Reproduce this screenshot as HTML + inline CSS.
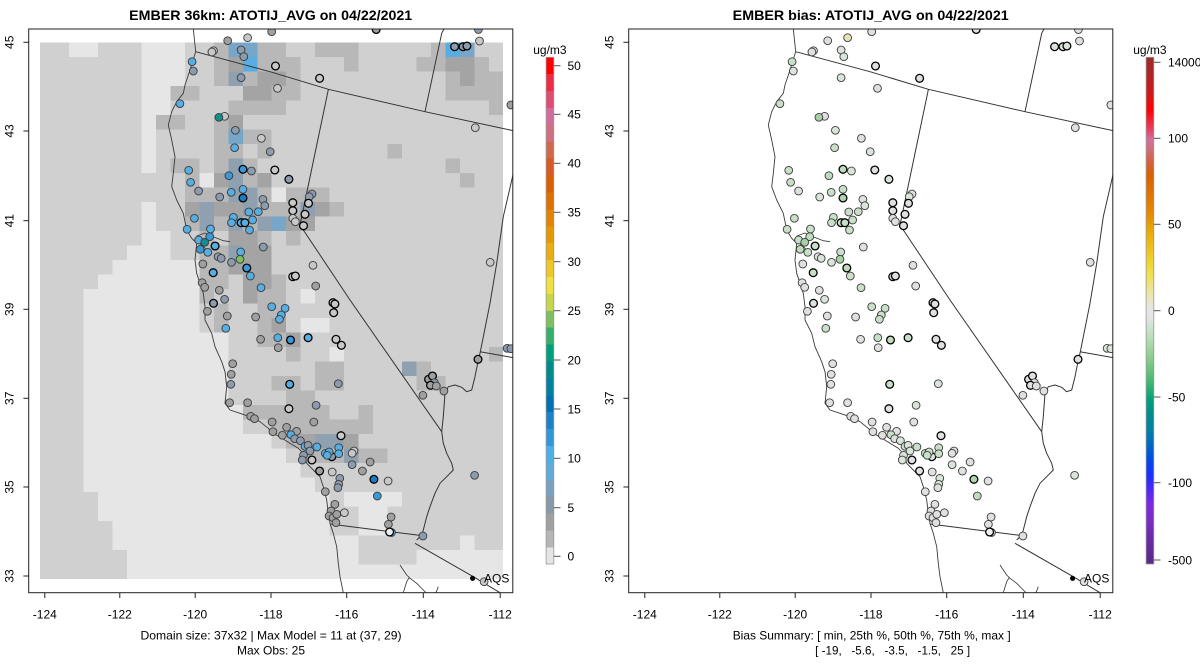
<!DOCTYPE html>
<html><head><meta charset="utf-8">
<style>
html,body{margin:0;padding:0;background:#fff;}
svg{display:block;font-family:"Liberation Sans",Arial,sans-serif;}
.ax{font-size:12px;fill:#000;}
.pt circle{stroke:#3a3a3a;stroke-width:0.9;}
.pt circle.k{stroke:#000;stroke-width:1.3;}
.L .g1{fill:#a0a0a0}.L .lt{fill:#c8c8c8}.L .tn{fill:#c8c8c8}.L .kb{fill:#8c9cae}.L .bl{fill:#56aee2}.L .mb{fill:#3a98d8}.L .db{fill:#1a7cc0}.L .te{fill:#128c90}.L .gr{fill:#78c060}.L .wh{fill:#ececec}
.R .g1,.R .lt{fill:#e0e0e0}.R .tn{fill:#e6e4b4}.R .kb{fill:#dae4da}.R .bl{fill:#c8dfc8}.R .mb{fill:#bddbbd}.R .db{fill:#b0d6b0}.R .te{fill:#a6d1a6}.R .gr{fill:#a6d1a2}.R .wh{fill:#eeeeee}
.ga{fill:#e6e6e6}.gc{fill:#b8b8b8}.gd{fill:#a4a4a4}.ge{fill:#8fa0b0}.gf{fill:#78a6c8}.gg{fill:#58aee2}
</style></head>
<body>
<svg width="1200" height="672" viewBox="0 0 1200 672" xmlns="http://www.w3.org/2000/svg">
<defs>
<clipPath id="box"><rect x="28.7" y="29" width="484.1" height="563.7"/></clipPath>
<linearGradient id="bias" x1="0" y1="0" x2="0" y2="1">
<stop offset="0" stop-color="#9a2a2a"/><stop offset="0.035" stop-color="#b02424"/><stop offset="0.074" stop-color="#d01818"/><stop offset="0.104" stop-color="#ff0000"/><stop offset="0.128" stop-color="#f02840"/><stop offset="0.147" stop-color="#e04a6c"/><stop offset="0.163" stop-color="#d070a0"/><stop offset="0.182" stop-color="#cc7078"/><stop offset="0.206" stop-color="#d46040"/><stop offset="0.232" stop-color="#d86000"/><stop offset="0.272" stop-color="#e07400"/><stop offset="0.311" stop-color="#e48c00"/><stop offset="0.337" stop-color="#e8a400"/><stop offset="0.370" stop-color="#ecbc18"/><stop offset="0.404" stop-color="#f0d430"/><stop offset="0.430" stop-color="#f0e050"/><stop offset="0.459" stop-color="#ece49a"/><stop offset="0.483" stop-color="#e8e6cc"/><stop offset="0.499" stop-color="#e6e6e6"/><stop offset="0.515" stop-color="#e4e4e4"/><stop offset="0.530" stop-color="#d0e4d0"/><stop offset="0.554" stop-color="#b8dcb8"/><stop offset="0.578" stop-color="#9cd29c"/><stop offset="0.601" stop-color="#80ca84"/><stop offset="0.627" stop-color="#5abe78"/><stop offset="0.652" stop-color="#30b074"/><stop offset="0.676" stop-color="#00a07c"/><stop offset="0.706" stop-color="#008c8c"/><stop offset="0.736" stop-color="#0080a4"/><stop offset="0.765" stop-color="#0068c4"/><stop offset="0.795" stop-color="#0048e8"/><stop offset="0.824" stop-color="#1830ff"/><stop offset="0.854" stop-color="#5028f4"/><stop offset="0.884" stop-color="#8028e0"/><stop offset="0.913" stop-color="#7a2cc4"/><stop offset="0.953" stop-color="#6a2aa4"/><stop offset="1" stop-color="#5c2888"/>
</linearGradient>
<g id="lines" fill="none" stroke="#333" stroke-width="1" stroke-linejoin="round">
<path d="M195.7,51.7 L270,71.7 L328.4,89.3 L425,111.7 L513.3,130.7"/>
<path d="M328.4,89.3 L300,225 L350,300 L441.7,431.7"/>
<path d="M425,111.7 L441.7,33.3 L444,29"/>
<path d="M513.3,173.3 L503.3,216.7 L496.7,263.3 L490,303.3 L480,353.3 L478.3,360 L475,376.7 L471.7,390 L466.7,391.7 L461.7,387.3 L455,385 L448.3,386.7 L445,393.3 L443.3,416.7 L441.7,431.7 L443.3,443.3 L446.7,453.3 L451.7,463.3 L453.3,470 L446.7,476.7 L440,483.3 L435,493.3 L430,506.7 L426.7,516.7 L423.3,530 L421.7,535 L416.7,540"/>
<path d="M330,524 L421,535.5"/>
<path d="M415,543.3 L473.3,576.7 L500,592.7"/>
<path d="M480,351.7 L513.3,357.7"/>
<path stroke-width="0.8" d="M400,565 L403.3,570 L406.7,575 L410,578.3 L416.7,583.3 L423.3,590 L426,592.7 M403.3,592.7 L406.7,581.7 L409,578 M436,592.7 L438.3,586.7"/>
<path stroke-width="0.9" stroke="#3a3a3a" d="M193.3,29 L195.7,51.7 L190,70 L185,85 L183.3,93.3 L176.7,101.7 L171.7,111.7 L168.3,125 L171.7,140 L175,156.7 L173.3,173.3 L171.7,186.7 L176.7,200 L183.3,213.3 L186.7,230 L191.7,238.3 L196.7,243.3 L195,260 L196.7,273.3 L200,283.3 L203.3,293.3 L205,306.7 L205,320 L211.7,333.3 L215,346.7 L221.7,361.7 L225,371.7 L226.7,386.7 L225,403.3 L230,410 L240,413.3 L250,416.7 L260,421.7 L268.3,428.3 L273.3,433.3 L280,437 L290,443.3 L298.3,448.3 L303.3,453.3 L306.7,463.3 L313.3,470 L320,476.7 L323.3,486.7 L326.7,500 L328.3,513.3 L330,523.3 L333.3,533.3 L336.7,546.7 L338.3,563.3 L340,576.7 L343.3,592.7"/>
<path stroke-width="0.8" stroke="#3a3a3a" d="M196.7,236 L205,233 L211,236 L217,238.3 L223.3,240.7 L230,241.7 M200,244 L205,248 L207,256"/>
</g>
</defs>

<!-- ================= LEFT PANEL ================= -->
<text x="270.7" y="20" text-anchor="middle" font-size="14" font-weight="bold" textLength="283" lengthAdjust="spacingAndGlyphs">EMBER 36km: ATOTIJ_AVG on 04/22/2021</text>

<g transform="translate(40.2,42.3) scale(14.47,14.5)" shape-rendering="crispEdges">
<rect x="0" y="0" width="32" height="37" fill="#d0d0d0"/>
<!-- light -->
<rect class="ga" x="2" y="0" width="2" height="1"/><rect class="ga" x="7" y="0" width="3" height="3"/><rect class="ga" x="7" y="3" width="2" height="2"/><rect class="ga" x="7" y="5" width="1" height="4"/><rect class="ga" x="7" y="11" width="1" height="2"/><rect class="ga" x="7" y="13" width="2" height="1"/><rect class="ga" x="6" y="14" width="3" height="1"/><rect class="ga" x="5" y="15" width="6" height="1"/><rect class="ga" x="4" y="16" width="7" height="1"/><rect class="ga" x="3" y="17" width="8" height="3"/><rect class="ga" x="3" y="20" width="10" height="5"/><rect class="ga" x="3" y="25" width="11" height="2"/><rect class="ga" x="3" y="27" width="13" height="1"/><rect class="ga" x="3" y="28" width="14" height="1"/><rect class="ga" x="3" y="29" width="15" height="1"/><rect class="ga" x="3" y="30" width="16" height="1"/><rect class="ga" x="4" y="31" width="16" height="2"/><rect class="ga" x="5" y="33" width="15" height="1"/><rect class="ga" x="5" y="34" width="17" height="1"/><rect class="ga" x="6" y="35" width="16" height="1"/><rect class="ga" x="6" y="36" width="26" height="1"/><rect class="ga" x="21" y="31" width="4" height="1"/><rect class="ga" x="22" y="32" width="2" height="2"/><rect class="ga" x="29" y="34" width="1" height="1"/><rect class="ga" x="26" y="35" width="6" height="1"/><rect class="ga" x="11" y="9" width="1" height="1"/><rect class="ga" x="16" y="10" width="1" height="1"/><rect class="ga" x="18" y="17" width="1" height="1"/><rect class="ga" x="18" y="19" width="2" height="1"/><rect class="ga" x="20" y="21" width="1" height="1"/>
<!-- row 0 -->
<rect class="gc" x="12" y="0" width="1" height="1"/><rect class="gf" x="13" y="0" width="2" height="1"/><rect class="gc" x="15" y="0" width="2" height="1"/><rect class="gc" x="19" y="0" width="3" height="1"/><rect class="gc" x="27" y="0" width="1" height="1"/><rect class="gg" x="28" y="0" width="1" height="1"/><rect class="gf" x="29" y="0" width="1" height="1"/>
<!-- row 1 -->
<rect class="gc" x="12" y="1" width="1" height="1"/><rect class="gd" x="13" y="1" width="1" height="1"/><rect class="gg" x="14" y="1" width="1" height="1"/><rect class="gc" x="15" y="1" width="3" height="1"/><rect class="gc" x="21" y="1" width="1" height="1"/><rect class="gc" x="26" y="1" width="2" height="1"/><rect class="gd" x="28" y="1" width="2" height="1"/><rect class="gc" x="30" y="1" width="1" height="1"/>
<!-- row 2 -->
<rect class="gc" x="12" y="2" width="1" height="1"/><rect class="ge" x="13" y="2" width="1" height="1"/><rect class="gc" x="14" y="2" width="1" height="1"/><rect class="gd" x="15" y="2" width="2" height="1"/><rect class="gc" x="17" y="2" width="1" height="1"/><rect class="gc" x="28" y="2" width="1" height="1"/><rect class="gd" x="29" y="2" width="1" height="1"/><rect class="gc" x="30" y="2" width="2" height="1"/>
<!-- row 3 -->
<rect class="gc" x="9" y="3" width="2" height="1"/><rect class="gd" x="14" y="3" width="2" height="1"/><rect class="gc" x="16" y="3" width="2" height="1"/><rect class="gc" x="28" y="3" width="4" height="1"/>
<!-- row 4 -->
<rect class="gc" x="13" y="4" width="4" height="1"/><rect class="gc" x="31" y="4" width="1" height="1"/>
<!-- row 5 -->
<rect class="gc" x="8" y="5" width="2" height="1"/><rect class="gc" x="12" y="5" width="1" height="1"/><rect class="gd" x="13" y="5" width="1" height="1"/>
<!-- row 6 -->
<rect class="gc" x="12" y="6" width="1" height="1"/><rect class="gf" x="13" y="6" width="1" height="1"/><rect class="gc" x="14" y="6" width="2" height="1"/>
<!-- row 7 -->
<rect class="gc" x="12" y="7" width="2" height="1"/><rect class="gc" x="15" y="7" width="1" height="1"/><rect class="gc" x="24" y="7" width="1" height="1"/>
<!-- row 8 -->
<rect class="gc" x="9" y="8" width="2" height="1"/><rect class="gc" x="12" y="8" width="1" height="1"/><rect class="ge" x="13" y="8" width="1" height="1"/><rect class="gc" x="14" y="8" width="1" height="1"/><rect class="gc" x="28" y="8" width="1" height="1"/>
<!-- row 9 -->
<rect class="gc" x="10" y="9" width="1" height="1"/><rect class="gd" x="12" y="9" width="1" height="1"/><rect class="ge" x="13" y="9" width="1" height="1"/><rect class="gc" x="14" y="9" width="1" height="1"/><rect class="gd" x="15" y="9" width="1" height="1"/><rect class="gc" x="29" y="9" width="1" height="1"/>
<!-- row 10 -->
<rect class="gc" x="10" y="10" width="3" height="1"/><rect class="ge" x="13" y="10" width="2" height="1"/><rect class="gc" x="15" y="10" width="1" height="1"/><rect class="gc" x="17" y="10" width="3" height="1"/>
<!-- row 11 -->
<rect class="gd" x="10" y="11" width="1" height="1"/><rect class="ge" x="11" y="11" width="1" height="1"/><rect class="gd" x="12" y="11" width="2" height="1"/><rect class="ge" x="14" y="11" width="1" height="1"/><rect class="gc" x="15" y="11" width="3" height="1"/><rect class="ge" x="18" y="11" width="1" height="1"/><rect class="gd" x="19" y="11" width="1" height="1"/><rect class="gc" x="20" y="11" width="1" height="1"/>
<!-- row 12 -->
<rect class="gc" x="10" y="12" width="1" height="1"/><rect class="ge" x="11" y="12" width="1" height="1"/><rect class="gc" x="12" y="12" width="1" height="1"/><rect class="ge" x="13" y="12" width="1" height="1"/><rect class="gc" x="14" y="12" width="1" height="1"/><rect class="ge" x="15" y="12" width="1" height="1"/><rect class="gf" x="16" y="12" width="1" height="1"/><rect class="gd" x="17" y="12" width="2" height="1"/>
<!-- row 13 -->
<rect class="gc" x="11" y="13" width="1" height="1"/><rect class="gd" x="13" y="13" width="2" height="1"/><rect class="gc" x="15" y="13" width="1" height="1"/><rect class="gc" x="17" y="13" width="1" height="1"/>
<!-- row 14 -->
<rect class="gc" x="11" y="14" width="2" height="1"/><rect class="ge" x="13" y="14" width="1" height="1"/><rect class="gd" x="14" y="14" width="2" height="1"/>
<!-- row 15 -->
<rect class="gc" x="11" y="15" width="2" height="1"/><rect class="gd" x="13" y="15" width="3" height="1"/>
<!-- row 16 -->
<rect class="gc" x="11" y="16" width="2" height="1"/><rect class="gd" x="14" y="16" width="2" height="1"/><rect class="gc" x="16" y="16" width="1" height="1"/>
<!-- row 17 -->
<rect class="gc" x="11" y="17" width="1" height="1"/><rect class="gd" x="14" y="17" width="1" height="1"/><rect class="gc" x="15" y="17" width="2" height="1"/>
<!-- row 18 -->
<rect class="gc" x="12" y="18" width="1" height="1"/><rect class="gc" x="15" y="18" width="2" height="1"/>
<!-- row 19 -->
<rect class="gc" x="12" y="19" width="1" height="1"/><rect class="gc" x="15" y="19" width="1" height="1"/><rect class="gd" x="16" y="19" width="1" height="1"/>
<!-- row 20 -->
<rect class="gc" x="15" y="20" width="2" height="1"/><rect class="gd" x="17" y="20" width="1" height="1"/>
<!-- row 21 -->
<rect class="gc" x="17" y="21" width="1" height="1"/><rect class="gc" x="31" y="21" width="1" height="1"/>
<!-- row 22 -->
<rect class="gc" x="19" y="22" width="2" height="1"/><rect class="ge" x="25" y="22" width="1" height="1"/><rect class="gc" x="26" y="22" width="1" height="1"/>
<!-- row 23 -->
<rect class="gc" x="16" y="23" width="2" height="1"/><rect class="gc" x="19" y="23" width="2" height="1"/><rect class="gc" x="26" y="23" width="2" height="1"/>
<!-- row 24 -->
<rect class="gc" x="17" y="24" width="2" height="1"/>
<!-- row 25 -->
<rect class="gc" x="14" y="25" width="6" height="1"/><rect class="gc" x="22" y="25" width="1" height="1"/>
<!-- row 26 -->
<rect class="gc" x="16" y="26" width="7" height="1"/>
<!-- row 27 -->
<rect class="gc" x="17" y="27" width="1" height="1"/><rect class="gd" x="18" y="27" width="1" height="1"/><rect class="ge" x="19" y="27" width="2" height="1"/><rect class="gd" x="21" y="27" width="1" height="1"/>
<!-- row 28 -->
<rect class="gc" x="18" y="28" width="3" height="1"/><rect class="ge" x="21" y="28" width="1" height="1"/><rect class="gc" x="22" y="28" width="2" height="1"/>
</g>

<g clip-path="url(#box)"><use href="#lines"/></g>

<g class="pt L" clip-path="url(#box)">
<circle r="3.9" cx="227.7" cy="40.7" class="g1"/><circle r="3.9" cx="247.6" cy="37.7" class="tn"/><circle r="3.9" cx="271.7" cy="31.7" class="g1"/><circle r="3.9" cx="376.2" cy="29.5" class="g1 k"/><circle r="3.9" cx="213.5" cy="50.7" class="lt"/><circle r="3.9" cx="211.9" cy="52" class="lt"/><circle r="3.9" cx="241.1" cy="50" class="kb"/><circle r="3.9" cx="243.8" cy="56.7" class="kb"/><circle r="3.9" cx="275.5" cy="66" class="lt k"/><circle r="3.9" cx="319.6" cy="78.3" class="lt k"/><circle r="3.9" cx="241.1" cy="77.7" class="kb"/><circle r="3.9" cx="277.5" cy="88.3" class="lt"/><circle r="3.9" cx="192.1" cy="61.7" class="bl"/><circle r="3.9" cx="193.3" cy="71" class="kb"/><circle r="3.9" cx="179.9" cy="103.7" class="bl"/><circle r="3.9" cx="224.6" cy="116.3" class="lt"/><circle r="3.9" cx="218.9" cy="117.3" class="te"/><circle r="3.9" cx="235.4" cy="130.3" class="kb"/><circle r="3.9" cx="234.6" cy="147.7" class="bl"/><circle r="3.9" cx="261.4" cy="138.3" class="lt"/><circle r="3.9" cx="270.2" cy="151.7" class="kb"/><circle r="3.9" cx="188.7" cy="170.3" class="bl"/><circle r="3.9" cx="190.6" cy="182.3" class="bl"/><circle r="3.9" cx="198.6" cy="191" class="kb"/><circle r="3.9" cx="228.9" cy="175.7" class="mb"/><circle r="3.9" cx="243" cy="169.3" class="mb k"/><circle r="3.9" cx="251.4" cy="171" class="kb"/><circle r="3.9" cx="274.8" cy="170" class="lt k"/><circle r="3.9" cx="288.9" cy="179.3" class="kb k"/><circle r="3.9" cx="219.7" cy="197" class="kb"/><circle r="3.9" cx="231.2" cy="192.3" class="bl"/><circle r="3.9" cx="243" cy="189.3" class="bl"/><circle r="3.9" cx="243" cy="198" class="db k"/><circle r="3.9" cx="262.9" cy="199.3" class="kb"/><circle r="3.9" cx="264.8" cy="205.7" class="kb"/><circle r="3.9" cx="292.8" cy="202.7" class="lt k"/><circle r="3.9" cx="292.8" cy="210.7" class="lt k"/><circle r="3.9" cx="312" cy="194" class="kb"/><circle r="3.9" cx="309.2" cy="196.7" class="kb"/><circle r="3.9" cx="308.5" cy="203.3" class="lt k"/><circle r="3.9" cx="305" cy="214.3" class="lt k"/><circle r="3.9" cx="194.4" cy="218.3" class="bl"/><circle r="3.9" cx="187.1" cy="229.3" class="bl"/><circle r="3.9" cx="210.5" cy="229" class="bl"/><circle r="3.9" cx="233.4" cy="217.3" class="bl"/><circle r="3.9" cx="231.5" cy="222.7" class="bl"/><circle r="3.9" cx="241.1" cy="222.7" class="bl k"/><circle r="3.9" cx="244.9" cy="222.7" class="bl k"/><circle r="3.9" cx="248.8" cy="212" class="bl"/><circle r="3.9" cx="252.6" cy="220" class="bl"/><circle r="3.9" cx="249.5" cy="230" class="bl"/><circle r="3.9" cx="258.3" cy="211.7" class="bl"/><circle r="3.9" cx="292.8" cy="218.3" class="lt"/><circle r="3.9" cx="295.4" cy="221.7" class="lt"/><circle r="3.9" cx="303.5" cy="225.7" class="lt k"/><circle r="3.9" cx="198.6" cy="240" class="bl"/><circle r="3.9" cx="209.7" cy="236.7" class="mb"/><circle r="3.9" cx="204.7" cy="242.3" class="te"/><circle r="3.9" cx="200.2" cy="249.3" class="mb"/><circle r="3.9" cx="207.8" cy="252.3" class="bl"/><circle r="3.9" cx="215.1" cy="246" class="bl k"/><circle r="3.9" cx="218.1" cy="256.7" class="kb"/><circle r="3.9" cx="221.2" cy="258.3" class="kb"/><circle r="3.9" cx="202.8" cy="264" class="g1"/><circle r="3.9" cx="231.5" cy="262.3" class="kb"/><circle r="3.9" cx="240.7" cy="252" class="bl"/><circle r="3.9" cx="240" cy="259.3" class="gr"/><circle r="3.9" cx="263.3" cy="247" class="kb"/><circle r="3.9" cx="246.8" cy="268" class="mb k"/><circle r="3.9" cx="213.2" cy="272.7" class="bl k"/><circle r="3.9" cx="250.3" cy="276" class="bl"/><circle r="3.9" cx="261" cy="287.7" class="bl"/><circle r="3.9" cx="313" cy="265.3" class="lt"/><circle r="3.9" cx="292.8" cy="276.7" class="lt k"/><circle r="3.9" cx="295.4" cy="276" class="lt k"/><circle r="3.9" cx="315.7" cy="286" class="g1"/><circle r="3.9" cx="202.1" cy="282.7" class="g1"/><circle r="3.9" cx="204.7" cy="287.3" class="g1"/><circle r="3.9" cx="219.3" cy="290.3" class="g1"/><circle r="3.9" cx="224.6" cy="299.3" class="kb"/><circle r="3.9" cx="213.5" cy="303.3" class="kb k"/><circle r="3.9" cx="207.4" cy="311.3" class="g1"/><circle r="3.9" cx="227.3" cy="316" class="g1"/><circle r="3.9" cx="255.6" cy="317" class="g1"/><circle r="3.9" cx="271.7" cy="306.7" class="bl"/><circle r="3.9" cx="285.1" cy="308.3" class="bl"/><circle r="3.9" cx="281.3" cy="315" class="bl"/><circle r="3.9" cx="279.4" cy="319.3" class="bl"/><circle r="3.9" cx="333" cy="302.7" class="lt k"/><circle r="3.9" cx="334.9" cy="304" class="lt k"/><circle r="3.9" cx="333.7" cy="312.7" class="lt k"/><circle r="3.9" cx="225.8" cy="328.3" class="bl"/><circle r="3.9" cx="454.6" cy="46.7" class="kb k"/><circle r="3.9" cx="463" cy="46.7" class="kb k"/><circle r="3.9" cx="466.9" cy="46" class="kb k"/><circle r="3.9" cx="478.4" cy="29.5" class="kb"/><circle r="3.9" cx="479.5" cy="41" class="lt"/><circle r="3.9" cx="510.9" cy="105" class="g1"/><circle r="3.9" cx="475.3" cy="127.7" class="lt"/><circle r="3.9" cx="490.2" cy="262.3" class="lt"/><circle r="3.9" cx="260.6" cy="339.3" class="g1"/><circle r="3.9" cx="277.8" cy="337.7" class="bl"/><circle r="3.9" cx="290.5" cy="340" class="mb k"/><circle r="3.9" cx="308.1" cy="337.7" class="bl k"/><circle r="3.9" cx="336" cy="339.3" class="lt k"/><circle r="3.9" cx="341.4" cy="345.3" class="lt k"/><circle r="3.9" cx="278.2" cy="347.7" class="g1"/><circle r="3.9" cx="232.7" cy="363.7" class="g1"/><circle r="3.9" cx="231.2" cy="374.3" class="g1"/><circle r="3.9" cx="230.8" cy="384.3" class="kb"/><circle r="3.9" cx="289.7" cy="384.3" class="bl k"/><circle r="3.9" cx="338.3" cy="383.7" class="kb"/><circle r="3.9" cx="229.6" cy="402.7" class="g1"/><circle r="3.9" cx="247.6" cy="402.7" class="g1"/><circle r="3.9" cx="288.9" cy="408.7" class="lt k"/><circle r="3.9" cx="316.1" cy="405.3" class="kb"/><circle r="3.9" cx="250.7" cy="416.3" class="g1"/><circle r="3.9" cx="254.5" cy="418.7" class="g1"/><circle r="3.9" cx="272.1" cy="422" class="g1"/><circle r="3.9" cx="272.9" cy="431.7" class="g1"/><circle r="3.9" cx="313.8" cy="422" class="g1"/><circle r="3.9" cx="286.6" cy="427.3" class="g1"/><circle r="3.9" cx="296.6" cy="431.3" class="g1"/><circle r="3.9" cx="341" cy="435.7" class="lt k"/><circle r="3.9" cx="282.4" cy="435.3" class="g1"/><circle r="3.9" cx="290.9" cy="434.7" class="bl"/><circle r="3.9" cx="294.7" cy="438.7" class="kb"/><circle r="3.9" cx="300.4" cy="440.7" class="kb"/><circle r="3.9" cx="305" cy="446.3" class="bl"/><circle r="3.9" cx="308.1" cy="445.3" class="kb"/><circle r="3.9" cx="310" cy="451" class="kb"/><circle r="3.9" cx="316.9" cy="447" class="bl"/><circle r="3.9" cx="331.8" cy="456.7" class="kb k"/><circle r="3.9" cx="325.3" cy="453.3" class="bl"/><circle r="3.9" cx="329.1" cy="452" class="bl"/><circle r="3.9" cx="327.2" cy="455.3" class="bl"/><circle r="3.9" cx="338.7" cy="447.7" class="bl"/><circle r="3.9" cx="338.7" cy="453.7" class="bl"/><circle r="3.9" cx="303.5" cy="455.3" class="kb"/><circle r="3.9" cx="302.3" cy="460" class="kb"/><circle r="3.9" cx="311.9" cy="460" class="lt k"/><circle r="3.9" cx="354" cy="451" class="lt"/><circle r="3.9" cx="352.1" cy="453.3" class="lt"/><circle r="3.9" cx="352.1" cy="464.7" class="kb"/><circle r="3.9" cx="370.1" cy="462" class="g1"/><circle r="3.9" cx="319.6" cy="471" class="g1 k"/><circle r="3.9" cx="332.2" cy="472" class="lt"/><circle r="3.9" cx="362.4" cy="471" class="g1"/><circle r="3.9" cx="339.8" cy="478.3" class="kb"/><circle r="3.9" cx="338.7" cy="484.3" class="kb"/><circle r="3.9" cx="337.9" cy="487.7" class="kb"/><circle r="3.9" cx="373.9" cy="479.3" class="db k"/><circle r="3.9" cx="388.1" cy="481" class="lt"/><circle r="3.9" cx="325.3" cy="491.7" class="g1"/><circle r="3.9" cx="377.3" cy="496" class="mb"/><circle r="3.9" cx="334.9" cy="504.3" class="g1"/><circle r="3.9" cx="331" cy="511" class="g1"/><circle r="3.9" cx="329.1" cy="516" class="g1"/><circle r="3.9" cx="333" cy="517.7" class="g1"/><circle r="3.9" cx="336.8" cy="514.3" class="g1"/><circle r="3.9" cx="336" cy="522.7" class="g1"/><circle r="3.9" cx="344.4" cy="512.7" class="lt"/><circle r="3.9" cx="391.1" cy="517" class="g1"/><circle r="3.9" cx="388.4" cy="524.3" class="g1"/><circle r="3.9" cx="391.5" cy="532.5" class="bl"/><circle r="3.9" cx="389.6" cy="532" class="wh k"/><circle r="3.9" cx="422.9" cy="536" class="kb"/><circle r="3.9" cx="428.6" cy="379.3" class="g1 k"/><circle r="3.9" cx="432.5" cy="376" class="g1 k"/><circle r="3.9" cx="434.4" cy="382.7" class="kb"/><circle r="3.9" cx="430.5" cy="385.3" class="g1 k"/><circle r="3.9" cx="436.3" cy="386" class="g1"/><circle r="3.9" cx="443.9" cy="391" class="g1"/><circle r="3.9" cx="422.9" cy="395.3" class="g1"/><circle r="3.9" cx="478" cy="359.3" class="g1 k"/><circle r="3.9" cx="507.1" cy="348.3" class="kb"/><circle r="3.9" cx="510.9" cy="348.7" class="kb"/><circle r="3.9" cx="474.6" cy="475.3" class="kb"/><circle r="3.9" cx="484.1" cy="581.7" class="lt"/>
</g>
<circle cx="472.6" cy="578.3" r="2.6" fill="#000"/>
<text x="484" y="582.5" class="ax">AQS</text>

<rect x="28.7" y="29" width="484.1" height="563.7" fill="none" stroke="#222" stroke-width="1"/>
<g stroke="#222" stroke-width="1">
<line x1="44.8" y1="592.7" x2="44.8" y2="598"/><line x1="119.8" y1="592.7" x2="119.8" y2="598"/><line x1="195.2" y1="592.7" x2="195.2" y2="598"/><line x1="271" y1="592.7" x2="271" y2="598"/><line x1="346.7" y1="592.7" x2="346.7" y2="598"/><line x1="423.3" y1="592.7" x2="423.3" y2="598"/><line x1="500.2" y1="592.7" x2="500.2" y2="598"/>
<line x1="23.4" y1="42.3" x2="28.7" y2="42.3"/><line x1="23.4" y1="131" x2="28.7" y2="131"/><line x1="23.4" y1="220.7" x2="28.7" y2="220.7"/><line x1="23.4" y1="309.3" x2="28.7" y2="309.3"/><line x1="23.4" y1="398.3" x2="28.7" y2="398.3"/><line x1="23.4" y1="487" x2="28.7" y2="487"/><line x1="23.4" y1="576" x2="28.7" y2="576"/>
</g>
<g class="ax" text-anchor="middle">
<text x="44.8" y="618.5">-124</text><text x="119.8" y="618.5">-122</text><text x="195.2" y="618.5">-120</text><text x="271" y="618.5">-118</text><text x="346.7" y="618.5">-116</text><text x="423.3" y="618.5">-114</text><text x="500.2" y="618.5">-112</text>
<text transform="translate(13.4,42.3) rotate(-90)">45</text><text transform="translate(13.4,131) rotate(-90)">43</text><text transform="translate(13.4,220.7) rotate(-90)">41</text><text transform="translate(13.4,309.3) rotate(-90)">39</text><text transform="translate(13.4,398.3) rotate(-90)">37</text><text transform="translate(13.4,487) rotate(-90)">35</text><text transform="translate(13.4,576) rotate(-90)">33</text>
<text x="271" y="639.5" textLength="261" lengthAdjust="spacingAndGlyphs">Domain size: 37x32 | Max Model = 11 at (37, 29)</text>
<text x="271" y="654.5">Max Obs: 25</text>
</g>

<!-- left colorbar -->
<g shape-rendering="crispEdges">
<rect x="546.1" y="57.3" width="7.7" height="17" fill="#ff0000"/><rect x="546.1" y="74.2" width="7.7" height="17" fill="#ee2a44"/><rect x="546.1" y="91.1" width="7.7" height="17" fill="#de4c72"/><rect x="546.1" y="108" width="7.7" height="17" fill="#d26c9c"/><rect x="546.1" y="124.9" width="7.7" height="17" fill="#cf7080"/><rect x="546.1" y="141.8" width="7.7" height="17" fill="#d0684c"/><rect x="546.1" y="158.7" width="7.7" height="17" fill="#d65a22"/><rect x="546.1" y="175.6" width="7.7" height="17" fill="#da6000"/><rect x="546.1" y="192.5" width="7.7" height="17" fill="#de7000"/><rect x="546.1" y="209.4" width="7.7" height="17" fill="#e28400"/><rect x="546.1" y="226.3" width="7.7" height="17" fill="#e69800"/><rect x="546.1" y="243.2" width="7.7" height="17" fill="#eaae10"/><rect x="546.1" y="260.1" width="7.7" height="17" fill="#eec824"/><rect x="546.1" y="277" width="7.7" height="17" fill="#f0e040"/><rect x="546.1" y="293.9" width="7.7" height="17" fill="#c6d64c"/><rect x="546.1" y="310.8" width="7.7" height="17" fill="#7ec060"/><rect x="546.1" y="327.7" width="7.7" height="17" fill="#34b06c"/><rect x="546.1" y="344.6" width="7.7" height="17" fill="#009e7c"/><rect x="546.1" y="361.5" width="7.7" height="17" fill="#008a8a"/><rect x="546.1" y="378.4" width="7.7" height="17" fill="#0080a0"/><rect x="546.1" y="395.3" width="7.7" height="17" fill="#0070b4"/><rect x="546.1" y="412.2" width="7.7" height="17" fill="#1c82c8"/><rect x="546.1" y="429.1" width="7.7" height="17" fill="#3098d8"/><rect x="546.1" y="446" width="7.7" height="17" fill="#4cb0e4"/><rect x="546.1" y="462.9" width="7.7" height="17" fill="#60aadc"/><rect x="546.1" y="479.8" width="7.7" height="17" fill="#78a2c0"/><rect x="546.1" y="496.7" width="7.7" height="17" fill="#8898a8"/><rect x="546.1" y="513.6" width="7.7" height="17" fill="#a0a0a0"/><rect x="546.1" y="530.5" width="7.7" height="17" fill="#b6b6b6"/><rect x="546.1" y="547.4" width="7.7" height="16.6" fill="#e5e5e5"/>
</g>
<rect x="546.1" y="57.3" width="7.7" height="506.7" fill="none" stroke="#999" stroke-width="0.8"/>
<g stroke="#555" stroke-width="1">
<line x1="553.8" y1="65.7" x2="560.5" y2="65.7"/><line x1="553.8" y1="114.3" x2="560.5" y2="114.3"/><line x1="553.8" y1="163.3" x2="560.5" y2="163.3"/><line x1="553.8" y1="212.3" x2="560.5" y2="212.3"/><line x1="553.8" y1="261.7" x2="560.5" y2="261.7"/><line x1="553.8" y1="310.7" x2="560.5" y2="310.7"/><line x1="553.8" y1="360" x2="560.5" y2="360"/><line x1="553.8" y1="409" x2="560.5" y2="409"/><line x1="553.8" y1="458.3" x2="560.5" y2="458.3"/><line x1="553.8" y1="507.7" x2="560.5" y2="507.7"/><line x1="553.8" y1="556.3" x2="560.5" y2="556.3"/>
</g>
<g class="ax">
<text x="567.5" y="70">50</text><text x="567.5" y="118.6">45</text><text x="567.5" y="167.6">40</text><text x="567.5" y="216.6">35</text><text x="567.5" y="266">30</text><text x="567.5" y="315">25</text><text x="567.5" y="364.3">20</text><text x="567.5" y="413.3">15</text><text x="567.5" y="462.6">10</text><text x="567.5" y="512">5</text><text x="567.5" y="560.6">0</text>
<text x="549.9" y="54" text-anchor="middle">ug/m3</text>
</g>

<!-- ================= RIGHT PANEL ================= -->
<text x="870.7" y="20" text-anchor="middle" font-size="14" font-weight="bold" textLength="276" lengthAdjust="spacingAndGlyphs">EMBER bias: ATOTIJ_AVG on 04/22/2021</text>
<g transform="translate(600,0)">
<g clip-path="url(#box)"><use href="#lines"/></g>
<g class="pt R" clip-path="url(#box)">
<circle r="3.9" cx="227.7" cy="40.7" class="g1"/><circle r="3.9" cx="247.6" cy="37.7" class="tn"/><circle r="3.9" cx="271.7" cy="31.7" class="g1"/><circle r="3.9" cx="376.2" cy="29.5" class="g1 k"/><circle r="3.9" cx="213.5" cy="50.7" class="lt"/><circle r="3.9" cx="211.9" cy="52" class="lt"/><circle r="3.9" cx="241.1" cy="50" class="kb"/><circle r="3.9" cx="243.8" cy="56.7" class="kb"/><circle r="3.9" cx="275.5" cy="66" class="lt k"/><circle r="3.9" cx="319.6" cy="78.3" class="lt k"/><circle r="3.9" cx="241.1" cy="77.7" class="kb"/><circle r="3.9" cx="277.5" cy="88.3" class="lt"/><circle r="3.9" cx="192.1" cy="61.7" class="bl"/><circle r="3.9" cx="193.3" cy="71" class="kb"/><circle r="3.9" cx="179.9" cy="103.7" class="bl"/><circle r="3.9" cx="224.6" cy="116.3" class="lt"/><circle r="3.9" cx="218.9" cy="117.3" class="te"/><circle r="3.9" cx="235.4" cy="130.3" class="kb"/><circle r="3.9" cx="234.6" cy="147.7" class="bl"/><circle r="3.9" cx="261.4" cy="138.3" class="lt"/><circle r="3.9" cx="270.2" cy="151.7" class="kb"/><circle r="3.9" cx="188.7" cy="170.3" class="bl"/><circle r="3.9" cx="190.6" cy="182.3" class="bl"/><circle r="3.9" cx="198.6" cy="191" class="kb"/><circle r="3.9" cx="228.9" cy="175.7" class="mb"/><circle r="3.9" cx="243" cy="169.3" class="mb k"/><circle r="3.9" cx="251.4" cy="171" class="kb"/><circle r="3.9" cx="274.8" cy="170" class="lt k"/><circle r="3.9" cx="288.9" cy="179.3" class="kb k"/><circle r="3.9" cx="219.7" cy="197" class="kb"/><circle r="3.9" cx="231.2" cy="192.3" class="bl"/><circle r="3.9" cx="243" cy="189.3" class="bl"/><circle r="3.9" cx="243" cy="198" class="db k"/><circle r="3.9" cx="262.9" cy="199.3" class="kb"/><circle r="3.9" cx="264.8" cy="205.7" class="kb"/><circle r="3.9" cx="292.8" cy="202.7" class="lt k"/><circle r="3.9" cx="292.8" cy="210.7" class="lt k"/><circle r="3.9" cx="312" cy="194" class="kb"/><circle r="3.9" cx="309.2" cy="196.7" class="kb"/><circle r="3.9" cx="308.5" cy="203.3" class="lt k"/><circle r="3.9" cx="305" cy="214.3" class="lt k"/><circle r="3.9" cx="194.4" cy="218.3" class="bl"/><circle r="3.9" cx="187.1" cy="229.3" class="bl"/><circle r="3.9" cx="210.5" cy="229" class="bl"/><circle r="3.9" cx="233.4" cy="217.3" class="bl"/><circle r="3.9" cx="231.5" cy="222.7" class="bl"/><circle r="3.9" cx="241.1" cy="222.7" class="bl k"/><circle r="3.9" cx="244.9" cy="222.7" class="bl k"/><circle r="3.9" cx="248.8" cy="212" class="bl"/><circle r="3.9" cx="252.6" cy="220" class="bl"/><circle r="3.9" cx="249.5" cy="230" class="bl"/><circle r="3.9" cx="258.3" cy="211.7" class="bl"/><circle r="3.9" cx="292.8" cy="218.3" class="lt"/><circle r="3.9" cx="295.4" cy="221.7" class="lt"/><circle r="3.9" cx="303.5" cy="225.7" class="lt k"/><circle r="3.9" cx="198.6" cy="240" class="bl"/><circle r="3.9" cx="209.7" cy="236.7" class="mb"/><circle r="3.9" cx="204.7" cy="242.3" class="te"/><circle r="3.9" cx="200.2" cy="249.3" class="mb"/><circle r="3.9" cx="207.8" cy="252.3" class="bl"/><circle r="3.9" cx="215.1" cy="246" class="bl k"/><circle r="3.9" cx="218.1" cy="256.7" class="kb"/><circle r="3.9" cx="221.2" cy="258.3" class="kb"/><circle r="3.9" cx="202.8" cy="264" class="g1"/><circle r="3.9" cx="231.5" cy="262.3" class="kb"/><circle r="3.9" cx="240.7" cy="252" class="bl"/><circle r="3.9" cx="240" cy="259.3" class="gr"/><circle r="3.9" cx="263.3" cy="247" class="kb"/><circle r="3.9" cx="246.8" cy="268" class="mb k"/><circle r="3.9" cx="213.2" cy="272.7" class="bl k"/><circle r="3.9" cx="250.3" cy="276" class="bl"/><circle r="3.9" cx="261" cy="287.7" class="bl"/><circle r="3.9" cx="313" cy="265.3" class="lt"/><circle r="3.9" cx="292.8" cy="276.7" class="lt k"/><circle r="3.9" cx="295.4" cy="276" class="lt k"/><circle r="3.9" cx="315.7" cy="286" class="g1"/><circle r="3.9" cx="202.1" cy="282.7" class="g1"/><circle r="3.9" cx="204.7" cy="287.3" class="g1"/><circle r="3.9" cx="219.3" cy="290.3" class="g1"/><circle r="3.9" cx="224.6" cy="299.3" class="kb"/><circle r="3.9" cx="213.5" cy="303.3" class="kb k"/><circle r="3.9" cx="207.4" cy="311.3" class="g1"/><circle r="3.9" cx="227.3" cy="316" class="g1"/><circle r="3.9" cx="255.6" cy="317" class="g1"/><circle r="3.9" cx="271.7" cy="306.7" class="bl"/><circle r="3.9" cx="285.1" cy="308.3" class="bl"/><circle r="3.9" cx="281.3" cy="315" class="bl"/><circle r="3.9" cx="279.4" cy="319.3" class="bl"/><circle r="3.9" cx="333" cy="302.7" class="lt k"/><circle r="3.9" cx="334.9" cy="304" class="lt k"/><circle r="3.9" cx="333.7" cy="312.7" class="lt k"/><circle r="3.9" cx="225.8" cy="328.3" class="bl"/><circle r="3.9" cx="454.6" cy="46.7" class="kb k"/><circle r="3.9" cx="463" cy="46.7" class="kb k"/><circle r="3.9" cx="466.9" cy="46" class="kb k"/><circle r="3.9" cx="478.4" cy="29.5" class="kb"/><circle r="3.9" cx="479.5" cy="41" class="lt"/><circle r="3.9" cx="510.9" cy="105" class="g1"/><circle r="3.9" cx="475.3" cy="127.7" class="lt"/><circle r="3.9" cx="490.2" cy="262.3" class="lt"/><circle r="3.9" cx="260.6" cy="339.3" class="g1"/><circle r="3.9" cx="277.8" cy="337.7" class="bl"/><circle r="3.9" cx="290.5" cy="340" class="mb k"/><circle r="3.9" cx="308.1" cy="337.7" class="bl k"/><circle r="3.9" cx="336" cy="339.3" class="lt k"/><circle r="3.9" cx="341.4" cy="345.3" class="lt k"/><circle r="3.9" cx="278.2" cy="347.7" class="g1"/><circle r="3.9" cx="232.7" cy="363.7" class="g1"/><circle r="3.9" cx="231.2" cy="374.3" class="g1"/><circle r="3.9" cx="230.8" cy="384.3" class="kb"/><circle r="3.9" cx="289.7" cy="384.3" class="bl k"/><circle r="3.9" cx="338.3" cy="383.7" class="kb"/><circle r="3.9" cx="229.6" cy="402.7" class="g1"/><circle r="3.9" cx="247.6" cy="402.7" class="g1"/><circle r="3.9" cx="288.9" cy="408.7" class="lt k"/><circle r="3.9" cx="316.1" cy="405.3" class="kb"/><circle r="3.9" cx="250.7" cy="416.3" class="g1"/><circle r="3.9" cx="254.5" cy="418.7" class="g1"/><circle r="3.9" cx="272.1" cy="422" class="g1"/><circle r="3.9" cx="272.9" cy="431.7" class="g1"/><circle r="3.9" cx="313.8" cy="422" class="g1"/><circle r="3.9" cx="286.6" cy="427.3" class="g1"/><circle r="3.9" cx="296.6" cy="431.3" class="g1"/><circle r="3.9" cx="341" cy="435.7" class="lt k"/><circle r="3.9" cx="282.4" cy="435.3" class="g1"/><circle r="3.9" cx="290.9" cy="434.7" class="bl"/><circle r="3.9" cx="294.7" cy="438.7" class="kb"/><circle r="3.9" cx="300.4" cy="440.7" class="kb"/><circle r="3.9" cx="305" cy="446.3" class="bl"/><circle r="3.9" cx="308.1" cy="445.3" class="kb"/><circle r="3.9" cx="310" cy="451" class="kb"/><circle r="3.9" cx="316.9" cy="447" class="bl"/><circle r="3.9" cx="331.8" cy="456.7" class="kb k"/><circle r="3.9" cx="325.3" cy="453.3" class="bl"/><circle r="3.9" cx="329.1" cy="452" class="bl"/><circle r="3.9" cx="327.2" cy="455.3" class="bl"/><circle r="3.9" cx="338.7" cy="447.7" class="bl"/><circle r="3.9" cx="338.7" cy="453.7" class="bl"/><circle r="3.9" cx="303.5" cy="455.3" class="kb"/><circle r="3.9" cx="302.3" cy="460" class="kb"/><circle r="3.9" cx="311.9" cy="460" class="lt k"/><circle r="3.9" cx="354" cy="451" class="lt"/><circle r="3.9" cx="352.1" cy="453.3" class="lt"/><circle r="3.9" cx="352.1" cy="464.7" class="kb"/><circle r="3.9" cx="370.1" cy="462" class="g1"/><circle r="3.9" cx="319.6" cy="471" class="g1 k"/><circle r="3.9" cx="332.2" cy="472" class="lt"/><circle r="3.9" cx="362.4" cy="471" class="g1"/><circle r="3.9" cx="339.8" cy="478.3" class="kb"/><circle r="3.9" cx="338.7" cy="484.3" class="kb"/><circle r="3.9" cx="337.9" cy="487.7" class="kb"/><circle r="3.9" cx="373.9" cy="479.3" class="db k"/><circle r="3.9" cx="388.1" cy="481" class="lt"/><circle r="3.9" cx="325.3" cy="491.7" class="g1"/><circle r="3.9" cx="377.3" cy="496" class="mb"/><circle r="3.9" cx="334.9" cy="504.3" class="g1"/><circle r="3.9" cx="331" cy="511" class="g1"/><circle r="3.9" cx="329.1" cy="516" class="g1"/><circle r="3.9" cx="333" cy="517.7" class="g1"/><circle r="3.9" cx="336.8" cy="514.3" class="g1"/><circle r="3.9" cx="336" cy="522.7" class="g1"/><circle r="3.9" cx="344.4" cy="512.7" class="lt"/><circle r="3.9" cx="391.1" cy="517" class="g1"/><circle r="3.9" cx="388.4" cy="524.3" class="g1"/><circle r="3.9" cx="391.5" cy="532.5" class="bl"/><circle r="3.9" cx="389.6" cy="532" class="wh k"/><circle r="3.9" cx="422.9" cy="536" class="kb"/><circle r="3.9" cx="428.6" cy="379.3" class="g1 k"/><circle r="3.9" cx="432.5" cy="376" class="g1 k"/><circle r="3.9" cx="434.4" cy="382.7" class="kb"/><circle r="3.9" cx="430.5" cy="385.3" class="g1 k"/><circle r="3.9" cx="436.3" cy="386" class="g1"/><circle r="3.9" cx="443.9" cy="391" class="g1"/><circle r="3.9" cx="422.9" cy="395.3" class="g1"/><circle r="3.9" cx="478" cy="359.3" class="g1 k"/><circle r="3.9" cx="507.1" cy="348.3" class="kb"/><circle r="3.9" cx="510.9" cy="348.7" class="kb"/><circle r="3.9" cx="474.6" cy="475.3" class="kb"/><circle r="3.9" cx="484.1" cy="581.7" class="lt"/>
</g>
<circle cx="472.6" cy="578.3" r="2.6" fill="#000"/>
<text x="484" y="582.5" class="ax">AQS</text>
<rect x="28.7" y="29" width="484.1" height="563.7" fill="none" stroke="#222" stroke-width="1"/>
<g stroke="#222" stroke-width="1">
<line x1="44.8" y1="592.7" x2="44.8" y2="598"/><line x1="119.8" y1="592.7" x2="119.8" y2="598"/><line x1="195.2" y1="592.7" x2="195.2" y2="598"/><line x1="271" y1="592.7" x2="271" y2="598"/><line x1="346.7" y1="592.7" x2="346.7" y2="598"/><line x1="423.3" y1="592.7" x2="423.3" y2="598"/><line x1="500.2" y1="592.7" x2="500.2" y2="598"/>
<line x1="23.4" y1="42.3" x2="28.7" y2="42.3"/><line x1="23.4" y1="131" x2="28.7" y2="131"/><line x1="23.4" y1="220.7" x2="28.7" y2="220.7"/><line x1="23.4" y1="309.3" x2="28.7" y2="309.3"/><line x1="23.4" y1="398.3" x2="28.7" y2="398.3"/><line x1="23.4" y1="487" x2="28.7" y2="487"/><line x1="23.4" y1="576" x2="28.7" y2="576"/>
</g>
<g class="ax" text-anchor="middle">
<text x="44.8" y="618.5">-124</text><text x="119.8" y="618.5">-122</text><text x="195.2" y="618.5">-120</text><text x="271" y="618.5">-118</text><text x="346.7" y="618.5">-116</text><text x="423.3" y="618.5">-114</text><text x="500.2" y="618.5">-112</text>
<text transform="translate(13.4,42.3) rotate(-90)">45</text><text transform="translate(13.4,131) rotate(-90)">43</text><text transform="translate(13.4,220.7) rotate(-90)">41</text><text transform="translate(13.4,309.3) rotate(-90)">39</text><text transform="translate(13.4,398.3) rotate(-90)">37</text><text transform="translate(13.4,487) rotate(-90)">35</text><text transform="translate(13.4,576) rotate(-90)">33</text>
<text x="271.7" y="639.5" textLength="278" lengthAdjust="spacingAndGlyphs">Bias Summary: [ min, 25th %, 50th %, 75th %, max ]</text>
<text x="292.6" y="654.5" textLength="155" lengthAdjust="spacingAndGlyphs" style="white-space:pre">[ -19,   -5.6,   -3.5,   -1.5,   25 ]</text>
</g>
</g>

<!-- right colorbar -->
<rect x="1146.1" y="57.3" width="7.7" height="506.7" fill="url(#bias)" stroke="#999" stroke-width="0.8"/>
<g stroke="#555" stroke-width="1">
<line x1="1153.8" y1="62.3" x2="1160.5" y2="62.3"/><line x1="1153.8" y1="138.3" x2="1160.5" y2="138.3"/><line x1="1153.8" y1="224.3" x2="1160.5" y2="224.3"/><line x1="1153.8" y1="310.7" x2="1160.5" y2="310.7"/><line x1="1153.8" y1="397" x2="1160.5" y2="397"/><line x1="1153.8" y1="482.7" x2="1160.5" y2="482.7"/><line x1="1153.8" y1="560" x2="1160.5" y2="560"/>
</g>
<g class="ax">
<text x="1168" y="66.6">14000</text><text x="1168" y="142.6">100</text><text x="1168" y="228.6">50</text><text x="1168" y="315">0</text><text x="1168" y="401.3">-50</text><text x="1168" y="487">-100</text><text x="1168" y="564.3">-500</text>
<text x="1149.9" y="54" text-anchor="middle">ug/m3</text>
</g>
</svg>
</body></html>
